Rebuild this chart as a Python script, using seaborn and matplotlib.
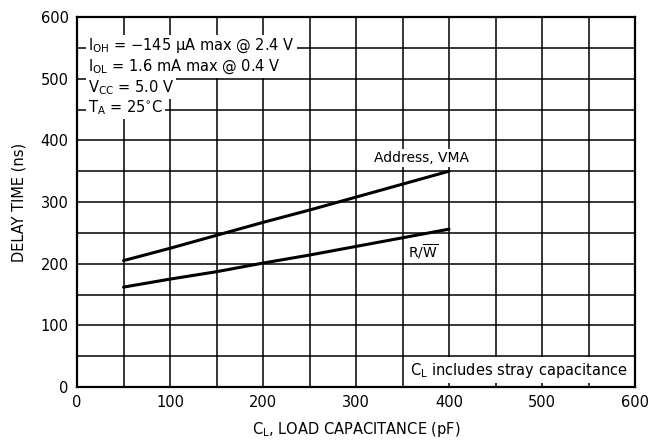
import numpy as np
import pandas as pd
import matplotlib
matplotlib.use('Agg')
import matplotlib.pyplot as plt
import seaborn as sns

# valores
cl = [50, 100, 150, 200, 250, 300, 350, 400]
addr_vma = [205, 225, 246, 267, 287, 308, 329, 350]
r_w = [162, 175, 187, 201, 214, 228, 242, 256]

x_ticks = [0, 100, 200, 300, 400, 500, 600]
y_ticks = [0, 100, 200, 300, 400, 500, 600]
grid_steps = list(range(0, 601, 50))

cond_lines = [r"I$_{\mathregular{OH}}$ = $-$145 $\mu$A max @ 2.4 V",
              r"I$_{\mathregular{OL}}$ = 1.6 mA max @ 0.4 V",
              r"V$_{\mathregular{CC}}$ = 5.0 V",
              r"T$_{\mathregular{A}}$ = 25$^{\circ}$C"]
cond_y = [553, 520, 486, 453]

df = pd.DataFrame({'CL': cl * 2,
                   'Delay': addr_vma + r_w,
                   'Signal': ['Address, VMA'] * len(cl) + ['R/W'] * len(cl)})

sns.set_style('white')
plt.rcParams['font.family'] = ['DejaVu Sans']
plt.rcParams['mathtext.default'] = 'regular'
plt.rcParams['text.color'] = 'black'
plt.rcParams['axes.labelcolor'] = 'black'
plt.rcParams['xtick.color'] = 'black'
plt.rcParams['ytick.color'] = 'black'

fig = plt.figure(figsize=(6.6, 4.41), dpi=100)
ax = fig.add_axes([0.1167, 0.1224, 0.8455, 0.839])

# cuadricula cada 50
for g in grid_steps:
    ax.axvline(g, color='black', lw=1.1, zorder=1)
    ax.axhline(g, color='black', lw=1.1, zorder=1)

sns.lineplot(data=df, x='CL', y='Delay', units='Signal', estimator=None,
             color='black', lw=2.2, ax=ax, zorder=3)

ax.set_xlim(0, 600)
ax.set_ylim(0, 600)
ax.set_xticks(x_ticks)
ax.set_yticks(y_ticks)
ax.tick_params(length=0, labelsize=10.5, pad=6)
for s in ax.spines.values():
    s.set_linewidth(1.6)
    s.set_color('black')

box = dict(facecolor='white', edgecolor='none', pad=1.5)
for t, yy in zip(cond_lines, cond_y):
    ax.text(12, yy, t, fontsize=10.5, va='center', ha='left', bbox=box, zorder=4)

ax.text(370, 372, 'Address, VMA', fontsize=10, ha='center', va='center', bbox=box, zorder=4)
ax.text(372, 220, r"R/$\overline{\mathrm{W}}$", fontsize=10, ha='center', va='center', bbox=box, zorder=4)
ax.text(475, 27, r"C$_{\mathregular{L}}$ includes stray capacitance", fontsize=10.5,
        ha='center', va='center', bbox=dict(facecolor='white', edgecolor='none', pad=2.5), zorder=4)

ax.set_xlabel(r"C$_{\mathregular{L}}$, LOAD CAPACITANCE (pF)", fontsize=10.5, labelpad=7)
ax.set_ylabel('DELAY TIME (ns)', fontsize=10.5, labelpad=10)

fig.savefig('out.png', dpi=100)
